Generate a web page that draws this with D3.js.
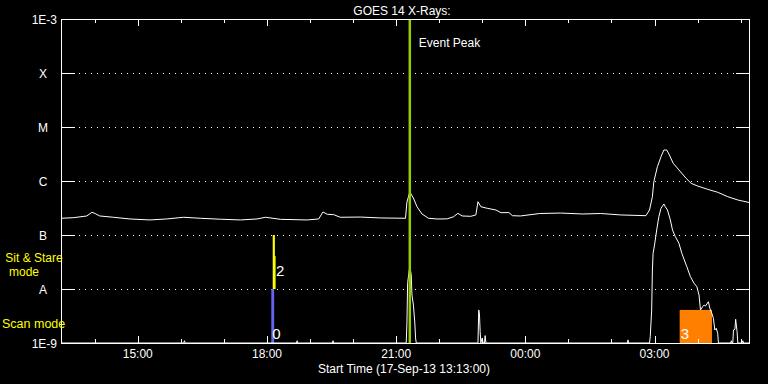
<!DOCTYPE html>
<html>
<head>
<meta charset="utf-8">
<script src="https://cdn.jsdelivr.net/npm/d3@7"></script>
<style>
html,body{margin:0;padding:0;background:#000;}
svg{display:block;}
text{font-family:"Liberation Sans",Arial,sans-serif;}
</style>
</head>
<body>
<script>
// ---------------- data ----------------
const title = "GOES 14 X-Rays:";
const startLabel = "Start Time (17-Sep-13 13:13:00)";
const startTime = "13:13";
const endTime = "05:13";
const levelFlux = [1e-3, 1e-4, 1e-5, 1e-6, 1e-7, 1e-8, 1e-9];
const levelLabels = ["1E-3", "X", "M", "C", "B", "A", "1E-9"];

const upperTimes = ["13:13","13:30","13:49","13:56","14:00","14:07","14:26","14:49","15:17","15:40","16:04","16:27","16:55","17:23","17:46","17:58","18:19","18:56","19:12","19:18","19:24","19:33","19:42","20:10","20:38","21:13","21:15","21:19","21:24","21:29","21:36","21:45","21:57","22:11","22:20","22:26","22:32","22:44","22:51","22:54","22:58","23:07","23:19","23:26","23:37","23:42","23:53","00:20","00:49","01:20","01:45","02:13","02:48","02:53","02:57","02:59","03:04","03:09","03:13","03:17","03:20","03:26","03:34","03:44","03:51","04:00","04:14","04:28","04:42","04:56","05:13"];
const upperFlux = [2.04e-7,2.09e-7,2.25e-7,2.63e-7,2.52e-7,2.25e-7,2.13e-7,1.98e-7,1.90e-7,1.98e-7,2.13e-7,2.04e-7,1.96e-7,1.90e-7,1.98e-7,2.13e-7,1.95e-7,1.90e-7,1.98e-7,2.67e-7,2.42e-7,2.38e-7,2.13e-7,2.15e-7,2.07e-7,2.04e-7,4.08e-7,6.25e-7,4.84e-7,3.34e-7,2.45e-7,2.04e-7,1.98e-7,1.99e-7,2.18e-7,2.52e-7,2.25e-7,2.22e-7,2.35e-7,4.14e-7,3.34e-7,3.12e-7,2.90e-7,2.59e-7,2.60e-7,2.28e-7,2.25e-7,2.50e-7,2.55e-7,2.45e-7,2.50e-7,2.35e-7,2.28e-7,2.90e-7,5.12e-7,9.70e-7,1.84e-6,2.82e-6,3.75e-6,3.75e-6,3.16e-6,2.13e-6,1.60e-6,1.12e-6,9.06e-7,8.07e-7,7.02e-7,6.18e-7,5.12e-7,4.45e-7,3.96e-7];

const lowerTimes = ["13:13","16:04","16:05","16:06","18:41","18:42","18:43","19:31","19:32","19:33","21:14","21:15","21:16","21:19","21:21","21:22","21:24","21:26","21:27","21:28","22:54","22:55","22:56","22:57","22:58","22:59","23:00","23:01","23:03","23:04","23:05","02:22","02:23","02:24","02:53","02:54","02:56","02:57","02:58","03:00","03:03","03:06","03:09","03:13","03:15","03:18","03:22","03:25","03:29","03:34","03:38","03:45","03:50","03:55","03:59","04:02","04:04","04:07","04:09","04:11","04:15","04:17","04:19","04:22","04:24","04:26","04:28","04:29","04:46","04:47","04:48","04:49","04:50","04:52","04:53","04:55","04:56","05:02","05:03","05:04","05:13"];
const lowerFlux = [5e-10,5e-10,1.1e-9,5e-10,5e-10,1.1e-9,5e-10,5e-10,1.1e-9,5e-10,5e-10,2.34e-9,1.31e-8,2.67e-8,1.82e-8,7.74e-9,5.05e-9,2.34e-9,1.24e-9,5e-10,5e-10,4.09e-9,3.55e-9,1.62e-9,5e-10,1.14e-9,1.24e-9,5e-10,5e-10,1.37e-9,5e-10,5e-10,1.14e-9,5e-10,5e-10,1.31e-9,4.09e-9,2.25e-8,4.58e-8,6.53e-8,1.24e-7,2.18e-7,3.12e-7,3.75e-7,3.34e-7,2.90e-7,1.90e-7,1.24e-7,9.3e-8,7.02e-8,4.58e-8,2.59e-8,1.69e-8,1.28e-8,1.10e-8,7.74e-9,4.09e-9,4.70e-9,5.05e-9,4.84e-9,5.82e-9,4.39e-9,3.80e-9,2.87e-9,1.74e-9,1.87e-9,1.51e-9,5e-10,5e-10,1.1e-9,5e-10,5e-10,1.74e-9,1.79e-9,2.75e-9,1.62e-9,5e-10,5e-10,1.1e-9,5e-10,5e-10];

const eventPeakTime = "21:19";
const eventPeakLabel = "Event Peak";

const obsLabels = ["0", "2", "", "3"];
const obsColors = ["#6464f0", "#ffff00", "#ffff00", "#ff8000"];
const obsStart = ["18:06", "18:08", "18:10", "03:35"];
const obsEnd = ["18:10", "18:11", "18:12", "04:20"];
const obsLow = [1e-9, 1e-8, 1e-8, 1e-9];
const obsHigh = [1e-8, 1e-7, 4.08e-8, 4.1e-9];

const modeLabels = ["Sit & Stare", "mode", "Scan mode"];

// ---------------- helpers ----------------
function parseT(s) {
  const [h, m] = s.split(":").map(Number);
  const day = h >= 13 ? 17 : 18;
  return new Date(2013, 8, day, h, m, 0);
}

const W = 768, H = 384;
const L = 61, R = 750, T = 19, B = 343;

const svg = d3.select("body").append("svg").attr("width", W).attr("height", H)
  .style("background", "#000");

const x = d3.scaleTime().domain([parseT(startTime), parseT(endTime)]).range([L, R]);
const y = d3.scaleLog().domain([1e-9, 1e-3]).range([B, T]).clamp(true);

svg.append("defs").append("clipPath").attr("id", "clip")
  .append("rect").attr("x", L).attr("y", T).attr("width", R - L).attr("height", B - T);

// gridlines (dotted)
const inner = levelFlux.slice(1, -1);
svg.append("g").selectAll("line").data(inner).join("line")
  .attr("x1", L).attr("x2", R)
  .attr("y1", d => Math.round(y(d)) + 0.5).attr("y2", d => Math.round(y(d)) + 0.5)
  .attr("stroke", "#fff").attr("stroke-width", 1).attr("stroke-dasharray", "1,5");

// observation markers
const plot = svg.append("g").attr("clip-path", "url(#clip)");
plot.append("g").selectAll("rect").data(obsStart.map((s, i) => i)).join("rect")
  .attr("x", i => x(parseT(obsStart[i])))
  .attr("width", i => x(parseT(obsEnd[i])) - x(parseT(obsStart[i])))
  .attr("y", i => y(obsHigh[i]))
  .attr("height", i => y(obsLow[i]) - y(obsHigh[i]))
  .attr("fill", i => obsColors[i]);

// lines
const line = d3.line().x(d => x(d[0])).y(d => y(d[1]));
const upper = upperTimes.map((t, i) => [parseT(t), upperFlux[i]]);
const lower = lowerTimes.map((t, i) => [parseT(t), lowerFlux[i]]);
plot.append("path").datum(upper).attr("d", line)
  .attr("fill", "none").attr("stroke", "#fff").attr("stroke-width", 1);
plot.append("path").datum(lower).attr("d", line)
  .attr("fill", "none").attr("stroke", "#fff").attr("stroke-width", 1);

// observation labels
const labelDx = [1, 1, 0, 1];
const labelDy = [-4, -13, 0, -4];
svg.append("g").selectAll("text").data(obsLabels.map((s, i) => i).filter(i => obsLabels[i])).join("text")
  .attr("x", i => (i === 1 ? x(parseT(obsEnd[i])) : x(parseT(obsStart[i]))) + labelDx[i])
  .attr("y", i => y(obsLow[i]) + labelDy[i])
  .attr("fill", "#fff").attr("font-size", 15).attr("font-weight", 300)
  .text(i => obsLabels[i]);

// event peak line
const ex = x(parseT(eventPeakTime));
svg.append("line").attr("x1", ex).attr("x2", ex).attr("y1", T).attr("y2", B)
  .attr("stroke", "#99cc00").attr("stroke-width", 2.5);
svg.append("text").attr("x", ex + 9).attr("y", 47).attr("fill", "#fff")
  .attr("font-size", 12).text(eventPeakLabel);

// frame
svg.append("rect").attr("x", L + 0.5).attr("y", T + 0.5).attr("width", R - L - 1).attr("height", B - T)
  .attr("fill", "none").attr("stroke", "#fff").attr("stroke-width", 1)
  .attr("shape-rendering", "crispEdges");

// y ticks (both sides)
const yt = svg.append("g").attr("shape-rendering", "crispEdges");
inner.forEach(d => {
  const yy = Math.round(y(d)) + 0.5;
  yt.append("line").attr("x1", L).attr("x2", L + 14).attr("y1", yy).attr("y2", yy).attr("stroke", "#fff");
  yt.append("line").attr("x1", R - 14).attr("x2", R).attr("y1", yy).attr("y2", yy).attr("stroke", "#fff");
});

// y labels
svg.append("g").selectAll("text").data(levelFlux).join("text")
  .attr("x", (d, i) => (i === 0 || i === levelFlux.length - 1) ? 57 : 43)
  .attr("y", d => y(d) + 4.5)
  .attr("text-anchor", (d, i) => (i === 0 || i === levelFlux.length - 1) ? "end" : "middle")
  .attr("fill", "#fff").attr("font-size", 12)
  .text((d, i) => levelLabels[i]);

// x ticks
const hourTicks = d3.timeHour.every(1).range(x.domain()[0], x.domain()[1]);
const xt = svg.append("g").attr("shape-rendering", "crispEdges");
hourTicks.forEach(t => {
  const major = t.getHours() % 3 === 0;
  const len = major ? 7 : 4;
  const xx = Math.round(x(t)) + 0.5;
  xt.append("line").attr("x1", xx).attr("x2", xx).attr("y1", B).attr("y2", B - len).attr("stroke", "#fff");
  xt.append("line").attr("x1", xx).attr("x2", xx).attr("y1", T).attr("y2", T + len).attr("stroke", "#fff");
});
const fmt = d3.timeFormat("%H:%M");
svg.append("g").selectAll("text").data(hourTicks.filter(t => t.getHours() % 3 === 0)).join("text")
  .attr("x", d => x(d)).attr("y", 358).attr("text-anchor", "middle")
  .attr("fill", "#fff").attr("font-size", 12).text(d => fmt(d));

svg.append("text").attr("x", 404).attr("y", 373).attr("text-anchor", "middle")
  .attr("fill", "#fff").attr("font-size", 12).text(startLabel);

svg.append("text").attr("x", 402).attr("y", 15).attr("text-anchor", "middle")
  .attr("fill", "#fff").attr("font-size", 12).text(title);

// mode labels
svg.append("text").attr("x", 34).attr("y", 262).attr("text-anchor", "middle")
  .attr("fill", "#ffff00").attr("font-size", 12).text(modeLabels[0]);
svg.append("text").attr("x", 24).attr("y", 276).attr("text-anchor", "middle")
  .attr("fill", "#ffff00").attr("font-size", 12).text(modeLabels[1]);
svg.append("text").attr("x", 2).attr("y", 328).attr("text-anchor", "start")
  .attr("fill", "#ffff00").attr("font-size", 12.5).text(modeLabels[2]);
</script>
</body>
</html>
